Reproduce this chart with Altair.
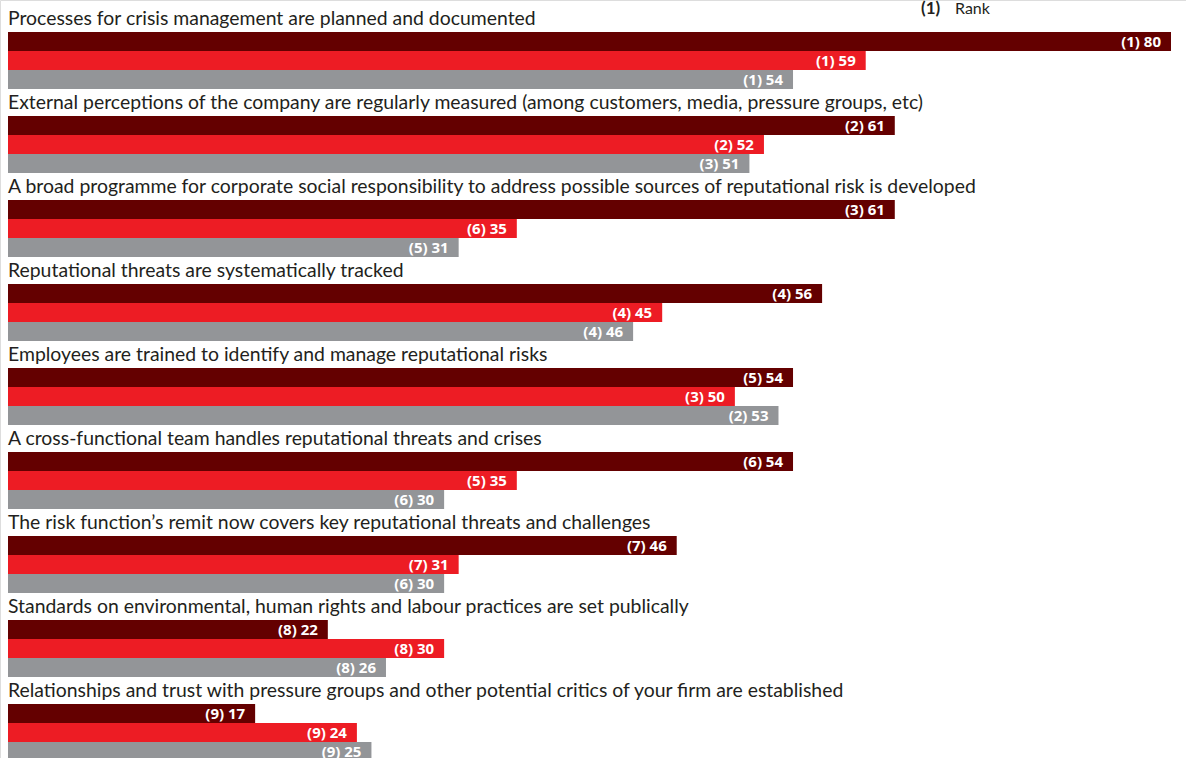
import altair as alt
import pandas as pd

categories = [
    "Processes for crisis management are planned and documented",
    "External perceptions of the company are regularly measured (among customers, media, pressure groups, etc)",
    "A broad programme for corporate social responsibility to address possible sources of reputational risk is developed",
    "Reputational threats are systematically tracked",
    "Employees are trained to identify and manage reputational risks",
    "A cross-functional team handles reputational threats and crises",
    "The risk function\u2019s remit now covers key reputational threats and challenges",
    "Standards on environmental, human rights and labour practices are set publically",
    "Relationships and trust with pressure groups and other potential critics of your firm are established",
]
series = ["s1", "s2", "s3"]
colors = ["#640000", "#ED1C24", "#939598"]

# printed values and ranks
values_s1 = [80, 61, 61, 56, 54, 54, 46, 22, 17]
ranks_s1 = [1, 2, 3, 4, 5, 6, 7, 8, 9]
values_s2 = [59, 52, 35, 45, 50, 35, 31, 30, 24]
ranks_s2 = [1, 2, 6, 4, 3, 5, 7, 8, 9]
values_s3 = [54, 51, 31, 46, 53, 30, 30, 26, 25]
ranks_s3 = [1, 3, 5, 4, 2, 6, 6, 8, 9]
# bar lengths as drawn in the picture (one grey bar is drawn shorter than its label)
bars_s1 = [80, 61, 61, 56, 54, 54, 46, 22, 17]
bars_s2 = [59, 52, 35, 45, 50, 35, 31, 30, 24]
bars_s3 = [54, 51, 31, 43, 53, 30, 30, 26, 25]

W, H = 1186, 758
BAR, GROUP, OFFSET = 19, 84, 32

rows = []
sets = [(values_s1, ranks_s1, bars_s1), (values_s2, ranks_s2, bars_s2), (values_s3, ranks_s3, bars_s3)]
for g, cat in enumerate(categories):
    for k, (vals, rks, lens) in enumerate(sets):
        top = OFFSET + g * GROUP + k * BAR
        rows.append({
            "category": cat, "series": series[k], "value": vals[g], "length": lens[g],
            "label": f"({rks[g]}) {vals[g]}",
            "y0": top, "y1": top + BAR, "ymid": top + BAR / 2,
        })
df = pd.DataFrame(rows)
titles = pd.DataFrame({
    "category": categories,
    "y": [OFFSET + g * GROUP for g in range(len(categories))],
    "x": [0] * len(categories),
})

px_per_unit = 1163 / 80
xdom = [-8 / px_per_unit, (W - 8) / px_per_unit]
xscale = alt.Scale(domain=xdom, nice=False, zero=False)
yscale = alt.Scale(domain=[0, H], reverse=True, nice=False, zero=False)
FONT = "Lato"

bars = alt.Chart(df).mark_bar(cornerRadius=0).encode(
    x=alt.X("x0:Q", scale=xscale, axis=None),
    x2="length:Q",
    y=alt.Y("y0:Q", scale=yscale, axis=None),
    y2="y1:Q",
    color=alt.Color("series:N", scale=alt.Scale(domain=series, range=colors), legend=None),
).transform_calculate(x0="0")

labels = alt.Chart(df).mark_text(
    align="right", baseline="middle", dx=-10, dy=0, color="white",
    fontWeight="bold", fontSize=15, font="Open Sans",
).encode(
    x=alt.X("length:Q", scale=xscale, axis=None),
    y=alt.Y("ymid:Q", scale=yscale, axis=None),
    text="label:N",
)

title_text = alt.Chart(titles).mark_text(
    align="left", baseline="alphabetic", dy=-7, fontSize=19.4, font=FONT, color="#231F20",
).encode(
    x=alt.X("x:Q", scale=xscale, axis=None),
    y=alt.Y("y:Q", scale=yscale, axis=None),
    text="category:N",
)

legend_df = pd.DataFrame({"t": ["(1)", "Rank"]})
leg1 = alt.Chart(legend_df.iloc[[0]]).mark_text(
    align="left", baseline="alphabetic", fontSize=17, fontWeight="bold", font=FONT, color="#231F20",
).encode(x=alt.value(921), y=alt.value(14), text="t:N")
leg2 = alt.Chart(legend_df.iloc[[1]]).mark_text(
    align="left", baseline="alphabetic", fontSize=16, font=FONT, color="#231F20",
).encode(x=alt.value(955), y=alt.value(14), text="t:N")

chart = alt.layer(bars, labels, title_text, leg1, leg2).properties(
    width=W, height=H, padding=0, autosize=alt.AutoSizeParams(type="none"),
).configure_view(stroke=None).configure(background="white")

chart.save("out.html", embed_options={"renderer": "svg", "actions": False})
